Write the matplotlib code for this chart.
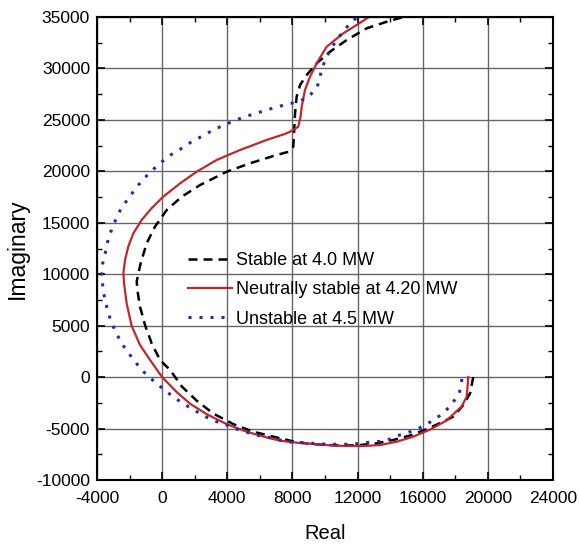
import matplotlib
matplotlib.use("Agg")
import matplotlib.pyplot as plt
from matplotlib.ticker import MultipleLocator

# Data
stable_x = [19100, 18910, 18500, 17890, 17270, 16250, 15220, 14200, 13170, 12150, 11120,
            10100, 9080, 8050, 6830, 5600, 4370, 3140, 2120, 1200, 490, -130, -640, -1050,
            -1360, -1520, -1560, -1460, -1320, -950, -440, 280, 1200, 2330, 3960, 5390, 6830,
            7750, 8050, 8100, 8160, 8260, 8470, 8880, 9490, 10310, 11330, 12560, 13790, 14810]
stable_y = [0, -1570, -2700, -3830, -4320, -5060, -5680, -6110, -6430, -6600, -6660,
            -6590, -6500, -6250, -5790, -5310, -4570, -3540, -2290, -900, 690, 1660, 3270, 5060,
            6840, 8450, 9300, 10090, 11060, 13010, 14620, 16240, 17530, 18670, 19960, 20780, 21490,
            21900, 22390, 23690, 25640, 27260, 28400, 29370, 30500, 31630, 32760, 33900, 34540, 35000]

neutral_x = [18800, 18750, 18700, 18380, 17450, 16450, 15400, 14400, 13380, 12350, 11330,
             10310, 9290, 8260, 7240, 6420, 5190, 3960, 2730, 1710, 890, 0, -740, -1360,
             -1870, -2180, -2340, -2380, -2280, -2080, -1770, -1260, -650, 60, 1100, 2120, 3340,
             4780, 6420, 7640, 8050, 8360, 8500, 8570, 8770, 9080, 9490, 10100, 11120, 11940, 12700]
neutral_y = [0, -1000, -1900, -2870, -4230, -5100, -5800, -6280, -6600, -6700, -6700,
             -6630, -6500, -6370, -6180, -5860, -5310, -4570, -3600, -2580, -1450, 0, 1660, 3120,
             4970, 7170, 9120, 10090, 11380, 12680, 13970, 15270, 16410, 17530, 18830, 19960, 21100,
             22070, 23050, 23690, 24020, 24340, 25310, 26280, 27900, 29200, 30500, 32110, 33410, 34220, 35000]

unstable_x = [18410, 18250, 17670, 17020, 16340, 15690, 15070, 14400, 13750, 13130, 12460,
              11840, 11130, 10510, 9860, 9180, 8570, 7900, 7240, 6620, 5960, 5290, 4610, 4020,
              3350, 2670, 2020, 1360, 690, 70, -540, -1260, -1870, -2420, -2890, -3200, -3450,
              -3610, -3710, -3650, -3450, -3300, -3000, -2590, -2080, -1460, -810, -130, 520,
              1200, 1810, 2470, 3140, 3800, 4430, 5090, 5760, 6420, 7090, 7750, 8320, 8980,
              9530, 9730, 10000, 10410, 10980, 11570, 12000]
unstable_y = [-180, -1570, -2870, -3780, -4490, -5040, -5400, -5720, -6180, -6280, -6370,
              -6500, -6530, -6530, -6500, -6430, -6370, -6310, -6110, -5890, -5690, -5400, -5070, -4690,
              -4330, -3850, -3260, -2640, -1930, -1160, -350, 690, 1930, 3120, 4480, 5720, 7080,
              8300, 9900, 11060, 12350, 13490, 14780, 16170, 17380, 18670, 19810, 20780, 21590,
              22240, 22880, 23430, 24020, 24500, 24920, 25310, 25640, 25960, 26280, 26540, 26770, 27200,
              28230, 29460, 30820, 32050, 33320, 34450, 35000]

plt.rcParams['font.family'] = ['Liberation Sans', 'DejaVu Sans']
plt.rcParams['axes.unicode_minus'] = False

fig = plt.figure(figsize=(5.79, 5.45), dpi=100)
ax = fig.add_axes([97 / 579, 1 - 480 / 545, 456 / 579, 463 / 545])

ax.plot(stable_x, stable_y, color='black', lw=1.8, linestyle=(0, (3.6, 2.4)),
        label='Stable at 4.0 MW')
ax.plot(neutral_x, neutral_y, color='#c0272d', lw=1.6, linestyle='-',
        label='Neutrally stable at 4.20 MW')
ax.plot(unstable_x, unstable_y, color='#2a2aa8', lw=2.2, linestyle=(0, (1, 2.6)),
        label='Unstable at 4.5 MW')

ax.set_xlim(-4000, 24000)
ax.set_ylim(-10000, 35000)
ax.xaxis.set_major_locator(MultipleLocator(4000))
ax.xaxis.set_minor_locator(MultipleLocator(2000))
ax.yaxis.set_major_locator(MultipleLocator(5000))
ax.yaxis.set_minor_locator(MultipleLocator(2500))

ax.grid(True, which='major', color='#666666', lw=1.0)
ax.set_axisbelow(True)
ax.tick_params(which='both', direction='in', top=True, right=True, labelsize=12.5)
ax.tick_params(axis='x', pad=8)
ax.tick_params(axis='y', pad=5)
ax.tick_params(which='major', length=6, width=1.2)
ax.tick_params(which='minor', length=3.5, width=1.0)
for s in ax.spines.values():
    s.set_linewidth(1.5)

ax.set_xlabel('Real', fontsize=14.5, labelpad=13)
ax.set_ylabel('Imaginary', fontsize=16.5, labelpad=5)

ax.legend(loc='upper left', bbox_to_anchor=(0.2, 0.492), frameon=False, fontsize=13,
          handlelength=2.45, handletextpad=0.2, labelspacing=0.68, borderpad=0,
          borderaxespad=0)

fig.savefig('out.png', dpi=100)
